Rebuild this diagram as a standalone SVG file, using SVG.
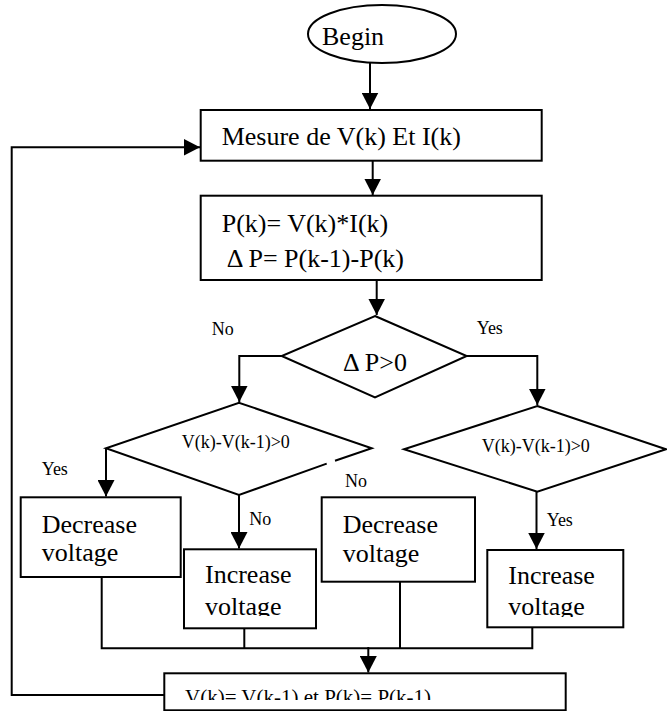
<svg xmlns="http://www.w3.org/2000/svg" width="667" height="711" viewBox="0 0 667 711">
<style>
.s{fill:none;stroke:#000;stroke-width:2}
.b{fill:#fff;stroke:#000;stroke-width:2}
text{font-family:'Liberation Serif','Times New Roman','DejaVu Serif',serif;fill:#000}
.t{font-size:26px}
.m{font-size:18px}
.w{font-size:21px}
</style>
<defs>
<marker id="ah" markerWidth="17" markerHeight="17" viewBox="0 0 17 17" refX="16.5" refY="8.5" orient="auto" markerUnits="userSpaceOnUse">
<path d="M0,0 L16.5,8.5 L0,17 Z" fill="#000"/>
</marker>
<clipPath id="c1"><rect x="184" y="549" width="132" height="67"/></clipPath>
<clipPath id="c2"><rect x="487" y="550" width="136" height="67"/></clipPath>
<clipPath id="c3"><rect x="164" y="673" width="402" height="27"/></clipPath>
</defs>
<rect width="667" height="711" fill="#fff"/>
<g id="connectors">
<path class="s" d="M370,63 V109" marker-end="url(#ah)"/>
<path class="s" d="M372.7,161 V195" marker-end="url(#ah)"/>
<path class="s" d="M376.7,280 V315" marker-end="url(#ah)"/>
<path class="s" d="M281.7,356 H239.3 V402" marker-end="url(#ah)"/>
<path class="s" d="M466.7,356 H537.3 V405" marker-end="url(#ah)"/>
<path class="s" d="M106,448.3 V496.5" marker-end="url(#ah)"/>
<path class="s" d="M239,495 V548.5" marker-end="url(#ah)"/>
<path class="s" d="M536.5,491.7 V549" marker-end="url(#ah)"/>
<path class="s" d="M101.7,577 V648.3 H532.3 V627"/>
<path class="s" d="M244.3,628 V648.3"/>
<path class="s" d="M400,582 V648.3"/>
<path class="s" d="M368.3,647 V672.5" marker-end="url(#ah)"/>
<path class="s" d="M164.3,695 H11.7 V147.3 H200" marker-end="url(#ah)"/>
</g>
<g id="begin">
<ellipse class="b" cx="382" cy="34" rx="74" ry="29"/>
<text class="t" x="322" y="45">Begin</text>
</g>
<g id="mesure">
<rect class="b" x="200.7" y="110" width="341" height="50.7"/>
<text class="t" x="221.7" y="145">Mesure de V(k) Et I(k)</text>
</g>
<g id="compute">
<rect class="b" x="200.7" y="195.7" width="341" height="84.3"/>
<text class="t" x="221.7" y="231.7">P(k)= V(k)*I(k)</text>
<text class="t" x="226.7" y="266.7">Δ P= P(k-1)-P(k)</text>
</g>
<g id="dp">
<polygon class="b" points="375,316 466.7,356 375,397.3 281.7,356"/>
<text class="t" x="343" y="370.7">Δ P&gt;0</text>
</g>
<g id="labels">
<text class="m" x="211.7" y="335">No</text>
<text class="m" x="476.7" y="334">Yes</text>
<text class="m" x="41.7" y="475">Yes</text>
<text class="m" x="345" y="487">No</text>
<text class="m" x="249.3" y="525">No</text>
<text class="m" x="546.7" y="525.7">Yes</text>
</g>
<g id="dv-left">
<path class="s" d="M335,460.8 L371.7,448.3 L239,402.7 L106,448.3 L239,495 L326.7,463.6"/>
<text class="m" x="181.7" y="448.3">V(k)-V(k-1)&gt;0</text>
</g>
<g id="dv-right">
<polygon class="b" points="537.3,406 666,449.3 537.3,491.7 404,449.3"/>
<text class="m" x="481.7" y="451.7">V(k)-V(k-1)&gt;0</text>
</g>
<g id="dec1">
<rect class="b" x="20.7" y="497.3" width="160" height="79.7"/>
<text class="t" x="41.7" y="532.7">Decrease</text>
<text class="t" x="41.7" y="560.7">voltage</text>
</g>
<g id="inc1">
<rect class="b" x="184" y="549.3" width="132" height="79"/>
<text class="t" x="205" y="583.3">Increase</text>
<text class="t" x="205" y="614.5" clip-path="url(#c1)">voltage</text>
</g>
<g id="dec2">
<rect class="b" x="321.7" y="497.3" width="153.3" height="84.4"/>
<text class="t" x="342.7" y="533.3">Decrease</text>
<text class="t" x="342.7" y="561.7">voltage</text>
</g>
<g id="inc2">
<rect class="b" x="487.3" y="550" width="136" height="77.3"/>
<text class="t" x="508.3" y="584">Increase</text>
<text class="t" x="508.3" y="615" clip-path="url(#c2)">voltage</text>
</g>
<g id="update">
<rect class="b" x="164.3" y="673.3" width="401.4" height="37"/>
<text class="w" x="185" y="704" clip-path="url(#c3)">V(k)= V(k-1) et P(k)= P(k-1)</text>
</g>
</svg>
